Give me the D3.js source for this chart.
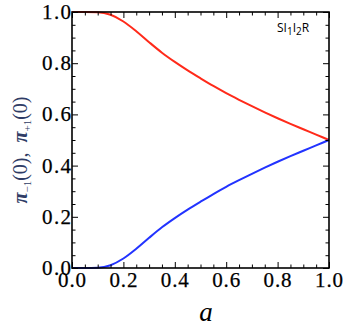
<html>
<head>
<meta http-equiv="Content-Type" content="text/html; charset=utf-8">
<title></title>
<style>
body{ margin:0; background:#fff; }
.curve{ fill:none; stroke-width:2px; }
.tick-label{ font-family:"Liberation Serif","DejaVu Serif",serif; font-size:21px; fill:#000; stroke:#000; stroke-width:0.25px; }
</style>
<script src="https://d3js.org/d3.v7.min.js" charset="utf-8"></script>
</head>
<body>
<div id="chart"></div>
<script>
// values
var aValues   = [0, 0.05, 0.1, 0.15, 0.2, 0.25, 0.3, 0.35, 0.4, 0.45, 0.5, 0.55, 0.6, 0.65, 0.7, 0.75, 0.8, 0.85, 0.9, 0.95, 1.0];
var piPlus    = [1, 1, 0.999, 0.989, 0.963, 0.925, 0.882, 0.841, 0.805, 0.772, 0.741, 0.711, 0.683, 0.657, 0.632, 0.608, 0.585, 0.563, 0.542, 0.521, 0.5];
var piMinus   = [0, 0, 0.001, 0.011, 0.037, 0.075, 0.118, 0.159, 0.195, 0.228, 0.259, 0.289, 0.317, 0.343, 0.368, 0.392, 0.415, 0.437, 0.458, 0.479, 0.5];
var tickVals  = [0, 0.2, 0.4, 0.6, 0.8, 1.0];
var minorVals = d3.range(0, 1.0001, 0.05);

var width = 346, height = 326;
var plotL = 72, plotT = 12, plotR = 329, plotB = 268;

var x = d3.scaleLinear().domain([0, 1]).range([plotL, plotR]);
var y = d3.scaleLinear().domain([0, 1]).range([plotB, plotT]);

var svg = d3.select('#chart').append('svg')
	.attr('width', width)
	.attr('height', height);

var line = d3.line()
	.curve(d3.curveMonotoneX)
	.x(function(d){ return x(d.a); })
	.y(function(d){ return y(d.v); });

var redData = aValues.map(function(a, i){ return {a:a, v:piPlus[i]}; });
var blueData = aValues.map(function(a, i){ return {a:a, v:piMinus[i]}; });

svg.append('path').datum(redData).attr('class', 'curve').attr('stroke', '#ff2a1a').attr('d', line);
svg.append('path').datum(blueData).attr('class', 'curve').attr('stroke', '#2233ff').attr('d', line);

// frame with ticks on all sides, inward
var fmt = d3.format('.1f');
function tickLen(v){ return tickVals.some(function(t){ return Math.abs(t - v) < 1e-6; }) ? 6 : 3.5; }

svg.append('g').attr('transform', 'translate(0,' + plotB + ')')
	.call(d3.axisBottom(x).tickValues(minorVals).tickSizeInner(0).tickSizeOuter(0).tickFormat(''))
	.call(function(g){ g.selectAll('.tick line').attr('y2', function(d){ return -tickLen(d); }); });
svg.append('g').attr('transform', 'translate(0,' + plotT + ')')
	.call(d3.axisTop(x).tickValues(minorVals).tickSizeInner(0).tickSizeOuter(0).tickFormat(''))
	.call(function(g){ g.selectAll('.tick line').attr('y2', function(d){ return tickLen(d); }); });
svg.append('g').attr('transform', 'translate(' + plotL + ',0)')
	.call(d3.axisLeft(y).tickValues(minorVals).tickSizeInner(0).tickSizeOuter(0).tickFormat(''))
	.call(function(g){ g.selectAll('.tick line').attr('x2', function(d){ return tickLen(d); }); });
svg.append('g').attr('transform', 'translate(' + plotR + ',0)')
	.call(d3.axisRight(y).tickValues(minorVals).tickSizeInner(0).tickSizeOuter(0).tickFormat(''))
	.call(function(g){ g.selectAll('.tick line').attr('x2', function(d){ return -tickLen(d); }); });
svg.selectAll('.domain').remove();
svg.selectAll('.tick line').attr('stroke', '#000').attr('stroke-width', 1);

svg.append('rect')
	.attr('x', plotL).attr('y', plotT)
	.attr('width', plotR - plotL).attr('height', plotB - plotT)
	.attr('fill', 'none').attr('stroke', '#000').attr('stroke-width', 1.6);

// tick labels
svg.selectAll('.xl').data(tickVals).enter().append('text')
	.attr('class', 'tick-label')
	.attr('x', function(d){ return x(d); })
	.attr('y', 287)
	.attr('text-anchor', 'middle')
	.attr('textLength', 28)
	.text(fmt);
svg.selectAll('.yl').data(tickVals).enter().append('text')
	.attr('class', 'tick-label')
	.attr('x', 71)
	.attr('y', function(d){ return y(d) + 7; })
	.attr('text-anchor', 'end')
	.attr('textLength', 29)
	.text(fmt);

// axis titles
svg.append('text')
	.attr('x', 206).attr('y', 321)
	.attr('text-anchor', 'middle')
	.style('font-family', '"Liberation Serif",serif')
	.style('font-style', 'italic')
	.style('font-size', '27px')
	.text('a');

var yt = svg.append('text')
	.attr('transform', 'translate(27,150) rotate(-90)')
	.attr('text-anchor', 'middle')
	.style('font-family', '"Liberation Serif",serif')
	.style('font-size', '20px')
	.attr('fill', '#2f3c66');
yt.append('tspan').style('font-style', 'italic').style('font-weight', 'bold').text('π');
yt.append('tspan').attr('dy', 4).style('font-size', '11px').text('−1');
yt.append('tspan').attr('dy', -4).text('(0),\u00a0\u00a0');
yt.append('tspan').style('font-style', 'italic').style('font-weight', 'bold').text('π');
yt.append('tspan').attr('dy', 4).style('font-size', '11px').text('+1');
yt.append('tspan').attr('dy', -4).text('(0)');

// panel tag
var tag = svg.append('text')
	.attr('x', 277).attr('y', 32)
	.style('font-family', '"Open Sans","Liberation Sans",sans-serif')
	.style('font-size', '12px')
	.attr('fill', '#000');
tag.append('tspan').text('SI');
tag.append('tspan').attr('dy', 3).style('font-size', '10px').text('1');
tag.append('tspan').attr('dy', -3).text('I');
tag.append('tspan').attr('dy', 3).style('font-size', '10px').text('2');
tag.append('tspan').attr('dy', -3).text('R');
</script>
</body>
</html>
